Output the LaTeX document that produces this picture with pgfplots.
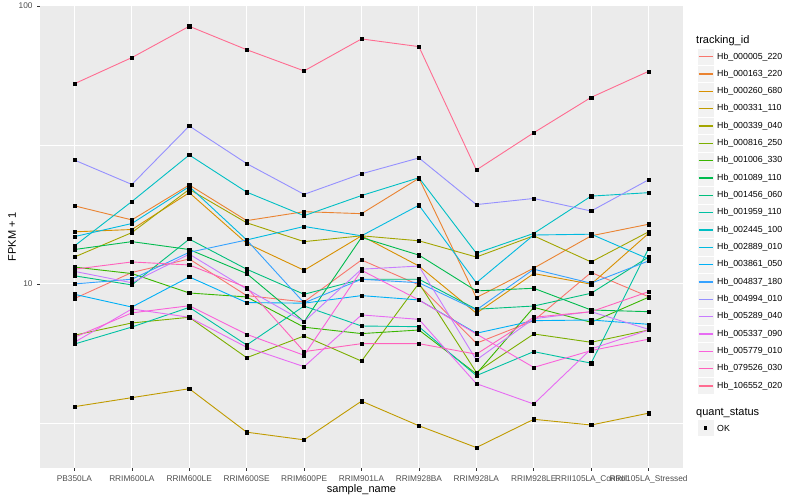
\documentclass[border=0pt]{standalone}
\usepackage{pgfplots}
\pgfplotsset{compat=1.18}
\usepackage{pgfplotstable}
\usepackage{fontspec}
\setmainfont{Liberation Sans}

% ggplot hue palette, 20 levels
\definecolor{c1}{HTML}{F8766D}
\definecolor{c2}{HTML}{EA8331}
\definecolor{c3}{HTML}{D89000}
\definecolor{c4}{HTML}{C09B00}
\definecolor{c5}{HTML}{A3A500}
\definecolor{c6}{HTML}{7CAE00}
\definecolor{c7}{HTML}{39B600}
\definecolor{c8}{HTML}{00BB4E}
\definecolor{c9}{HTML}{00BF7D}
\definecolor{c10}{HTML}{00C1A3}
\definecolor{c11}{HTML}{00BFC4}
\definecolor{c12}{HTML}{00BAE0}
\definecolor{c13}{HTML}{00B0F6}
\definecolor{c14}{HTML}{35A2FF}
\definecolor{c15}{HTML}{9590FF}
\definecolor{c16}{HTML}{C77CFF}
\definecolor{c17}{HTML}{E76BF3}
\definecolor{c18}{HTML}{FA62DB}
\definecolor{c19}{HTML}{FF62BC}
\definecolor{c20}{HTML}{FF6C91}
\definecolor{panelbg}{HTML}{EBEBEB}
\definecolor{keybg}{HTML}{F2F2F2}
\definecolor{ticktxt}{HTML}{4D4D4D}
\definecolor{tickcol}{HTML}{333333}

% FPKM + 1, one row per sample, one column per tracking_id
\pgfplotstableread{
idx s1 s2 s3 s4 s5 s6 s7 s8 s9 s10 s11 s12 s13 s14 s15 s16 s17 s18 s19 s20
0 8.86 19.1 15.4 3.62 12.5 6.54 11.5 13.3 10.7 6.08 13.7 14.8 9.18 10.0 27.9 11.1 6.17 6.43 11.3 52.5
1 11.0 17.0 15.7 3.90 15.3 7.24 10.9 14.2 9.92 7.00 19.8 16.5 8.26 10.4 22.8 10.1 8.13 7.87 12.0 65.2
2 12.3 22.7 21.3 4.20 21.9 7.59 9.28 13.3 14.5 8.24 29.1 22.4 10.6 13.0 37.0 12.8 7.59 8.35 11.7 84.5
3 9.08 16.9 14.0 2.93 16.6 5.43 8.98 10.9 11.3 6.03 21.4 14.4 8.57 14.4 27.1 9.59 5.92 6.59 9.71 69.6
4 8.62 18.2 11.2 2.75 14.2 6.50 6.99 7.32 9.18 8.33 17.6 16.1 8.53 8.55 21.0 7.32 5.04 5.54 5.71 58.4
5 12.2 17.9 14.9 3.79 14.9 5.28 6.63 14.7 10.4 7.06 20.8 14.9 9.08 10.4 24.9 11.3 7.74 11.2 6.10 76.1
6 9.92 24.0 11.6 3.09 14.3 10.06 6.83 12.7 10.4 7.02 24.1 19.2 8.76 10.1 28.4 11.6 7.46 8.76 6.10 71.4
7 6.12 8.93 7.85 2.58 12.5 4.81 4.75 9.44 8.11 4.68 12.9 10.1 6.65 8.06 19.3 5.33 4.38 6.61 5.59 25.7
8 7.38 11.4 10.9 3.26 14.9 6.61 8.24 9.65 8.33 5.71 15.2 15.0 7.38 11.3 20.3 7.50 3.70 5.01 7.59 35.0
9 11.0 14.9 9.98 3.11 12.0 6.17 7.28 8.06 9.26 5.19 20.7 15.1 7.42 10.06 18.3 7.95 5.84 5.76 7.95 46.9
10 9.00 16.4 15.2 3.43 15.4 6.83 8.96 7.95 12.5 13.4 21.3 12.3 7.16 12.1 23.7 6.87 6.83 6.33 9.38 58.2
}\fpkm

\begin{document}
\begin{tikzpicture}[x=1bp,y=1bp]
\useasboundingbox (0,0) rectangle (800,500);
\begin{axis}[
    at={(40bp,32bp)}, anchor=south west,
    scale only axis, width=643bp, height=463bp,
    ymode=log, ymin=2.178, ymax=100.8,
    xmin=-0.6, xmax=10.6,
    xtick={0,...,10},
    xticklabels={PB350LA,RRIM600LA,RRIM600LE,RRIM600SE,RRIM600PE,RRIM901LA,
        RRIM928BA,RRIM928LA,RRIM928LE,RRII105LA\_Control,RRII105LA\_Stressed},
    ytick={10,100}, yticklabels={10,100},
    minor ytick={3.1623,31.623},
    grid=both,
    major grid style={white, line width=1.07bp},
    minor grid style={white, line width=0.53bp},
    axis background/.style={fill=panelbg},
    axis line style={draw=none},
    tick align=outside, xtick pos=bottom, ytick pos=left,
    major tick length=2.75bp, minor tick length=0pt,
    tick style={tickcol, line width=0.5bp},
    ticklabel style={font=\fontsize{8.3bp}{9bp}\selectfont, text=ticktxt},
    xticklabel style={inner sep=0pt, anchor=north, yshift=-4.5bp},
    yticklabel style={inner sep=0pt, anchor=east, xshift=-4.5bp},
    clip=false,
]
\pgfplotsinvokeforeach{1,...,20}{
  \addplot[no marks, color=c#1, line width=0.9bp] table[x=idx, y=s#1] {\fpkm};
}
\pgfplotsinvokeforeach{1,...,20}{
  \addplot[only marks, mark=square*, mark size=1.6bp, black] table[x=idx, y=s#1] {\fpkm};
}
\end{axis}
% axis titles
\node[rotate=90, font=\fontsize{11bp}{12bp}\selectfont] at (12,263.5) {FPKM + 1};
\node[font=\fontsize{11bp}{12bp}\selectfont] at (361.5,10) {sample\_name};
% legend: tracking_id
\node[anchor=west, inner sep=0pt, font=\fontsize{11bp}{12bp}\selectfont] at (696,459.3) {tracking\_id};
\foreach \n [count=\i] in {Hb\_000005\_220,Hb\_000163\_220,Hb\_000260\_680,Hb\_000331\_110,
    Hb\_000339\_040,Hb\_000816\_250,Hb\_001006\_330,Hb\_001089\_110,Hb\_001456\_060,
    Hb\_001959\_110,Hb\_002445\_100,Hb\_002889\_010,Hb\_003861\_050,Hb\_004837\_180,
    Hb\_004994\_010,Hb\_005289\_040,Hb\_005337\_090,Hb\_005779\_010,Hb\_079526\_030,
    Hb\_106552\_020} {
  \pgfmathsetmacro\yy{500-56.7-(\i-1)*17.33}
  \filldraw[fill=keybg, draw=white, line width=0.6bp] (697,\yy-8.66) rectangle (714.3,\yy+8.66);
  \draw[c\i, line width=1.2bp] (698.7,\yy) -- (712.6,\yy);
  \node[anchor=west, inner sep=0pt, font=\fontsize{8.8bp}{10bp}\selectfont] at (717,\yy) {\n};
}
% legend: quant_status
\node[anchor=west, inner sep=0pt, font=\fontsize{11bp}{12bp}\selectfont] at (696,87.3) {quant\_status};
\filldraw[fill=keybg, draw=white, line width=0.6bp] (697,72-8.66) rectangle (714.3,72+8.66);
\fill[black] (705.65-1.6,72-1.6) rectangle (705.65+1.6,72+1.6);
\node[anchor=west, inner sep=0pt, font=\fontsize{8.8bp}{10bp}\selectfont] at (717,72) {OK};
\end{tikzpicture}
\end{document}
